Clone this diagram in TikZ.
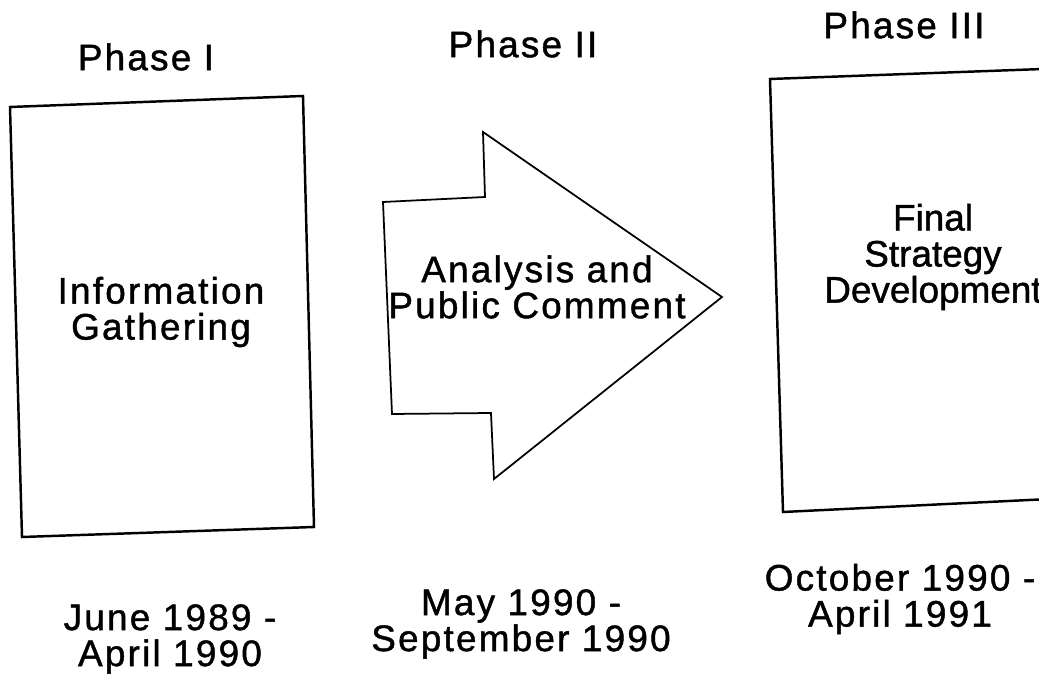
\documentclass[tikz,border=0pt]{standalone}
\usepackage{fontspec}
\setmainfont[LetterSpace=6, FakeBold=1.2]{Liberation Sans}
\usetikzlibrary{calc}

\tikzset{
  phasebox/.style={draw=black, line width=1.4pt, line join=miter},
  arrowshape/.style={draw=black, line width=1pt, line join=miter},
  txt/.style={font=\fontsize{21}{20.5}\selectfont, align=center, inner sep=0pt},
  tighttxt/.style={txt, font=\fontsize{21}{20.5}\selectfont\addfontfeature{LetterSpace=0}},
}

\begin{document}
\begin{tikzpicture}[x=0.02cm,y=-0.02cm]
  \useasboundingbox (0,0) rectangle (1039,675);

  % phase headings
  \node[txt] (ph1) at (146,57) {Phase I};
  \node[txt] (ph2) at (523,44) {Phase II};
  \node[txt] (ph3) at (904,25) {Phase III};

  % the three shapes
  \draw[phasebox] (10,107) -- (303,96) -- (314,527) -- (22,537) -- cycle;
  \draw[arrowshape] (383,202) -- (485,197) -- (483,132) -- (722,297)
    -- (494,479) -- (491,413) -- (392,414) -- cycle;
  \draw[phasebox] (770,79) -- (1070,68) -- (1070,498) -- (783,512) -- cycle;

  % what happens in each phase
  \node[txt] (info) at (161,312) {Information\\Gathering};
  \node[txt] (anal) at (537,287) {Analysis and\\Public Comment};
  \node[tighttxt] (final) at (933,257) {Final\\Strategy\\Development};

  % dates
  \node[txt] (date1) at (170,639) {June 1989 -\\April 1990};
  \node[txt] (date2) at (521,624) {May 1990 -\\September 1990};
  \node[txt] (date3) at (900,599) {October 1990 -\\April 1991};
\end{tikzpicture}
\end{document}
